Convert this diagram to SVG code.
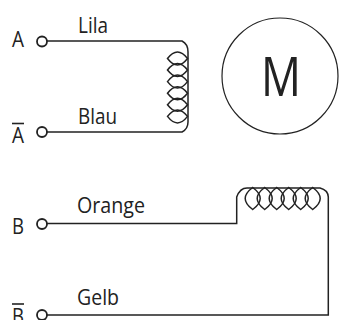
<svg xmlns="http://www.w3.org/2000/svg" width="339" height="321" viewBox="0 0 339 321">
<style>
.w{fill:none;stroke:#222;stroke-width:1.5}
.c{fill:#fff;stroke:#222;stroke-width:1.8}
.t{font-family:"Open Sans","Noto Sans",sans-serif;font-size:22px;fill:#222}
.o{stroke:#222;stroke-width:1.6}
</style>
<defs>
<path id="lv" d="M167.500 0Q177.500 -13 187.500 0Q177.500 13 167.500 0Z"/>
<path id="lh" d="M0 187.500Q-15 198.500 0 209.500Q15 198.500 0 187.500Z"/>
<clipPath id="clip"><rect x="0" y="0" width="339" height="320"/></clipPath>
</defs>
<g id="connectors" class="w">
<path d="M47 41H182Q188 44 188 52V122Q188 129 182 132H47"/>
<path d="M47 223.500H236.700V197Q240 188 247 188H320Q328 190 328.300 197V315H47"/>
<g>
<use href="#lv" y="58.500"/><use href="#lv" y="70"/><use href="#lv" y="81.600"/><use href="#lv" y="93.200"/><use href="#lv" y="104.800"/><use href="#lv" y="116.400"/>
</g>
<g>
<use href="#lh" x="252.700"/><use href="#lh" x="264.700"/><use href="#lh" x="276.700"/><use href="#lh" x="288.700"/><use href="#lh" x="300.700"/><use href="#lh" x="312.700"/>
</g>
</g>
<g id="motor"><circle class="w" style="stroke-width:1.2" cx="280" cy="76" r="58"/><text class="t" style="font-size:54px" x="261" y="96" textLength="40" lengthAdjust="spacingAndGlyphs">M</text></g>
<g id="terminal-a"><circle class="c" cx="42" cy="41.500" r="5"/><text class="t" x="12" y="47" textLength="12" lengthAdjust="spacingAndGlyphs">A</text><text class="t" x="78" y="33" textLength="30" lengthAdjust="spacingAndGlyphs">Lila</text></g>
<g id="terminal-a-bar"><circle class="c" cx="42" cy="132" r="5"/><text class="t" x="12" y="143" textLength="12" lengthAdjust="spacingAndGlyphs">A</text><line class="o" x1="12" y1="123.500" x2="24" y2="123.500"/><text class="t" x="78" y="124" textLength="39" lengthAdjust="spacingAndGlyphs">Blau</text></g>
<g id="terminal-b"><circle class="c" cx="42" cy="224" r="5"/><text class="t" x="12" y="234" textLength="12" lengthAdjust="spacingAndGlyphs">B</text><text class="t" x="77" y="213" textLength="68" lengthAdjust="spacingAndGlyphs">Orange</text></g>
<g id="terminal-b-bar" clip-path="url(#clip)"><circle class="c" cx="42" cy="315" r="5"/><text class="t" x="12" y="324" textLength="12" lengthAdjust="spacingAndGlyphs">B</text><line class="o" x1="12" y1="304" x2="24" y2="304"/><text class="t" x="77" y="305" textLength="42" lengthAdjust="spacingAndGlyphs">Gelb</text></g>
</svg>
